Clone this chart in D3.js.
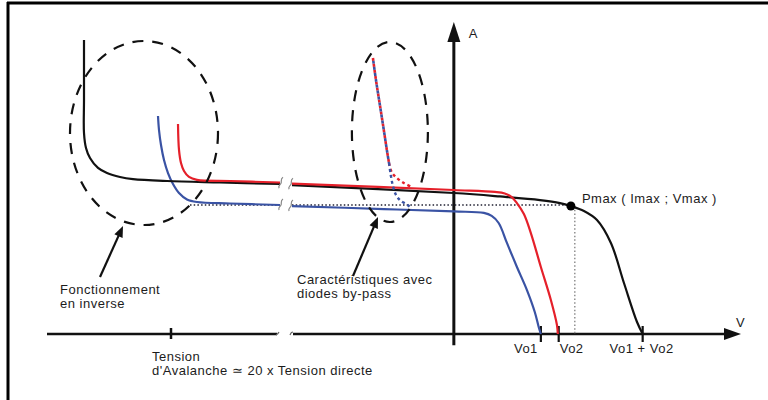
<!DOCTYPE html>
<html><head><meta charset="utf-8">
<script src="https://cdn.jsdelivr.net/npm/d3@7/dist/d3.min.js"></script>
<style>body{margin:0;background:#fff}svg{display:block}text{font-family:"Liberation Sans",Arial,Helvetica,sans-serif;fill:#1c1c1c;letter-spacing:0.5px}</style>
</head><body>
<svg id="c" width="768" height="400"></svg>
<script>
// ---- data (V in volts-ish schematic units, I in amps-ish units) ----
const blackLeft  = [[-527,19.6],[-527,15.6],[-527,13.4],[-525,12.4],[-521,11.73],[-513,11.07],[-504,10.73],[-491,10.47],[-478,10.33],[-444,10.2],[-391,10.1],[-331,10.0]];
const blackRight = [[-37.2,9.93],[0,9.4],[10.6,9.17],[19.8,8.93],[24.4,8.73],[26.9,8.53],[29.9,8.2],[32.9,7.6],[36.1,6.07],[39.1,3.4],[42.1,0.8],[43.4,0]];
const redLeft    = [[-433,14.0],[-432,12.27],[-430,11.4],[-427,10.87],[-422,10.47],[-414,10.27],[-381,10.2],[-331,10.1]];
const redRight   = [[-37.2,10.03],[0,9.6],[9.4,9.47],[11.7,9.37],[13.3,9.13],[14.5,8.73],[16.1,8.0],[17.7,6.73],[20.0,4.47],[22.3,2.27],[23.7,0.6],[23.9,0]];
const blueLeft   = [[-453,14.53],[-452,13.6],[-450,12.6],[-447,11.6],[-443,10.73],[-438,10.0],[-432,9.4],[-424,8.97],[-414,8.8],[-381,8.7],[-331,8.6]];
const blueRight  = [[-37.2,8.53],[-16.1,8.33],[0,8.17],[6.9,8.07],[8.7,7.87],[10.3,7.4],[12.2,6.07],[14.5,4.47],[16.8,2.93],[18.6,1.47],[19.5,0.47],[20.0,0]];
const bypassCommon = [[-18.6,18.4],[-17.9,16.93],[-17.0,15.27],[-16.1,13.6],[-15.4,12.27],[-14.9,11.4]];
const bypassRed    = [[-14.9,11.4],[-14.3,10.8],[-13.1,10.4],[-11.5,10.07],[-9.7,9.8]];
const bypassBlue   = [[-14.9,11.4],[-14.5,10.6],[-14.0,9.87],[-13.3,9.27],[-12.2,8.87],[-10.6,8.6],[-9.7,8.33]];
const pmax = [26.9, 8.53];
const pmaxLabel = "Pmax ( Imax ; Vmax )";
const tickValues = [20.0, 24.1, 43.4];
const tickLabels = ["Vo1", "Vo2", "Vo1 + Vo2"];
const avalancheTick = -440;
const avalancheLabel = ["Tension", "d'Avalanche \u2243 20 x Tension directe"];
const noteInverse = ["Fonctionnement", "en inverse"];
const noteBypass = ["Caract\u00e9ristiques avec", "diodes by-pass"];
const axisLabels = {x: "V", y: "A"};

// ---- scales (broken x axis) ----
const x = d3.scaleLinear().domain([-564, -331, -37.2, 66]).range([47, 280, 292, 741]);
const y = d3.scaleLinear().domain([0, 20.8]).range([334, 22]);

const svg = d3.select("#c");
// frame (top and left only)
svg.append("line").attr("x1",7).attr("x2",768).attr("y1",3).attr("y2",3).attr("stroke","#000").attr("stroke-width",3);
svg.append("line").attr("x1",8).attr("x2",8).attr("y1",2).attr("y2",400).attr("stroke","#000").attr("stroke-width",3);

const line = d3.line().x(d=>x(d[0])).y(d=>y(d[1])).curve(d3.curveCatmullRom.alpha(0.5));

function arrowHead(x1,y1,x2,y2,len,w){
  const a = Math.atan2(y2-y1,x2-x1);
  const bx = x2 - len*Math.cos(a), by = y2 - len*Math.sin(a);
  const px = -Math.sin(a)*w/2, py = Math.cos(a)*w/2;
  return `M${x2},${y2}L${bx+px},${by+py}L${bx-px},${by-py}Z`;
}

// ---- axes ----
const x0 = x(0), y0 = y(0);
svg.append("line").attr("x1",x(-564)).attr("x2",x(-331)-3).attr("y1",y0).attr("y2",y0).attr("stroke","#111").attr("stroke-width",2.5);
svg.append("line").attr("x1",x(-37.2)+1).attr("x2",x(66)-12).attr("y1",y0).attr("y2",y0).attr("stroke","#111").attr("stroke-width",2.5);
svg.append("path").attr("d",arrowHead(x(-564),y0,x(66),y0,17,12)).attr("fill","#111");
const brk = svg.append("g").attr("fill","none").attr("stroke","#666").attr("stroke-width",1.2);
brk.append("path").attr("d",`M${x(-331)-4},${y0+1}q2,-1 3,-3`);
brk.append("path").attr("d",`M${x(-37.2)-2},${y0+1}q1,-3 3,-3`);
svg.append("line").attr("x1",x0).attr("x2",x0).attr("y1",y(-0.75)).attr("y2",y(20.8)+16).attr("stroke","#111").attr("stroke-width",3);
svg.append("path").attr("d",arrowHead(x0,y(-0.75),x0,y(20.8),20,13)).attr("fill","#111");
svg.append("text").attr("x",x0+15).attr("y",y(20.8)+16).attr("font-size",13).text(axisLabels.y);
svg.append("text").attr("x",x(66)-5).attr("y",y0-7).attr("font-size",13).text(axisLabels.x);

svg.append("line").attr("x1",x(avalancheTick)).attr("x2",x(avalancheTick)).attr("y1",y0-6).attr("y2",y0+5).attr("stroke","#111").attr("stroke-width",2.5);
tickValues.forEach((v,i)=>{
  svg.append("line").attr("x1",x(v)).attr("x2",x(v)).attr("y1",y0-8).attr("y2",y0+8).attr("stroke","#111").attr("stroke-width",2.2);
});
const anchors = ["end","start","middle"];
const offs = [-3, 1, -1];
tickLabels.forEach((t,i)=>{
  svg.append("text").attr("x",x(tickValues[i])+offs[i]).attr("y",y0+19).attr("font-size",13).attr("text-anchor",anchors[i]).text(t);
});
avalancheLabel.forEach((t,i)=>{
  svg.append("text").attr("x",152).attr("y",361+i*14).attr("font-size",13).text(t);
});

// ---- reference dotted lines ----
const dots = svg.append("g").attr("fill","none");
dots.append("path").attr("d",line([[-421,pmax[1]+0.07],[-331,pmax[1]+0.07]])).attr("stroke","#223").attr("stroke-width",1.4).attr("stroke-dasharray","1.5,2.2");
dots.append("path").attr("d",line([[-37.2,pmax[1]+0.07],[pmax[0],pmax[1]+0.07]])).attr("stroke","#223").attr("stroke-width",1.4).attr("stroke-dasharray","1.5,2.2");
dots.append("path").attr("d",line([[pmax[0]+0.9,pmax[1]],[pmax[0]+0.9,0]])).attr("stroke","#888").attr("stroke-width",1.4).attr("stroke-dasharray","1.5,2.2");

// ---- curves ----
const curves = [
  [blueLeft,"#3a53a4"],[blueRight,"#3a53a4"],
  [blackLeft,"#111"],[blackRight,"#111"],
  [redLeft,"#e5202a"],[redRight,"#e5202a"]
];
curves.forEach(([d,c])=>{
  svg.append("path").attr("d",line(d)).attr("fill","none").attr("stroke",c).attr("stroke-width",2.2);
});
const sq = svg.append("g").attr("fill","none").attr("stroke","#888").attr("stroke-width",1.2);
[[-331,10.05],[-331,8.6]].forEach(([v,i])=>{
  sq.append("path").attr("d",`M${x(v)+3},${y(i)-6}c-3,2 -1,4 -2,6 c-1,2 -3,2 -2,5`);
});
[[-37.2,9.98],[-37.2,8.53]].forEach(([v,i])=>{
  sq.append("path").attr("d",`M${x(v)+1},${y(i)-6}c-3,2 -1,4 -2,6 c-1,2 -3,2 -2,5`);
});

svg.append("path").attr("d",line(bypassCommon)).attr("fill","none").attr("stroke","#e5202a").attr("stroke-width",2.6).attr("stroke-dasharray","3,3");
svg.append("path").attr("d",line(bypassCommon)).attr("fill","none").attr("stroke","#3a53a4").attr("stroke-width",2.6).attr("stroke-dasharray","3,3").attr("stroke-dashoffset",3);
svg.append("path").attr("d",line(bypassRed)).attr("fill","none").attr("stroke","#e5202a").attr("stroke-width",2.4).attr("stroke-dasharray","3,3");
svg.append("path").attr("d",line(bypassBlue)).attr("fill","none").attr("stroke","#3a53a4").attr("stroke-width",2.4).attr("stroke-dasharray","3,3");

svg.append("circle").attr("cx",x(pmax[0])).attr("cy",y(pmax[1])).attr("r",4.5).attr("fill","#000");
svg.append("text").attr("x",x(pmax[0])+11).attr("y",y(pmax[1])-3).attr("font-size",13).text(pmaxLabel);

// ---- annotations ----
const ann = svg.append("g").attr("fill","none").attr("stroke","#111").attr("stroke-width",2.2).attr("stroke-dasharray","11,9");
ann.append("ellipse").attr("cx",x(-467)).attr("cy",133).attr("rx",74).attr("ry",92);
ann.append("ellipse").attr("cx",x(-14.7)).attr("cy",132).attr("rx",38).attr("ry",90);

function arrow(x1,y1,x2,y2){
  svg.append("line").attr("x1",x1).attr("y1",y1).attr("x2",x2-(x2-x1)*0.12).attr("y2",y2-(y2-y1)*0.12).attr("stroke","#111").attr("stroke-width",2.2);
  svg.append("path").attr("d",arrowHead(x1,y1,x2,y2,11,9)).attr("fill","#111");
}
arrow(100,277,123,226);
arrow(353,276,378,217);

noteInverse.forEach((t,i)=>svg.append("text").attr("x",60).attr("y",294+i*13.5).attr("font-size",13).text(t));
noteBypass.forEach((t,i)=>svg.append("text").attr("x",297).attr("y",284+i*13.5).attr("font-size",13).text(t));
</script>
</body></html>
